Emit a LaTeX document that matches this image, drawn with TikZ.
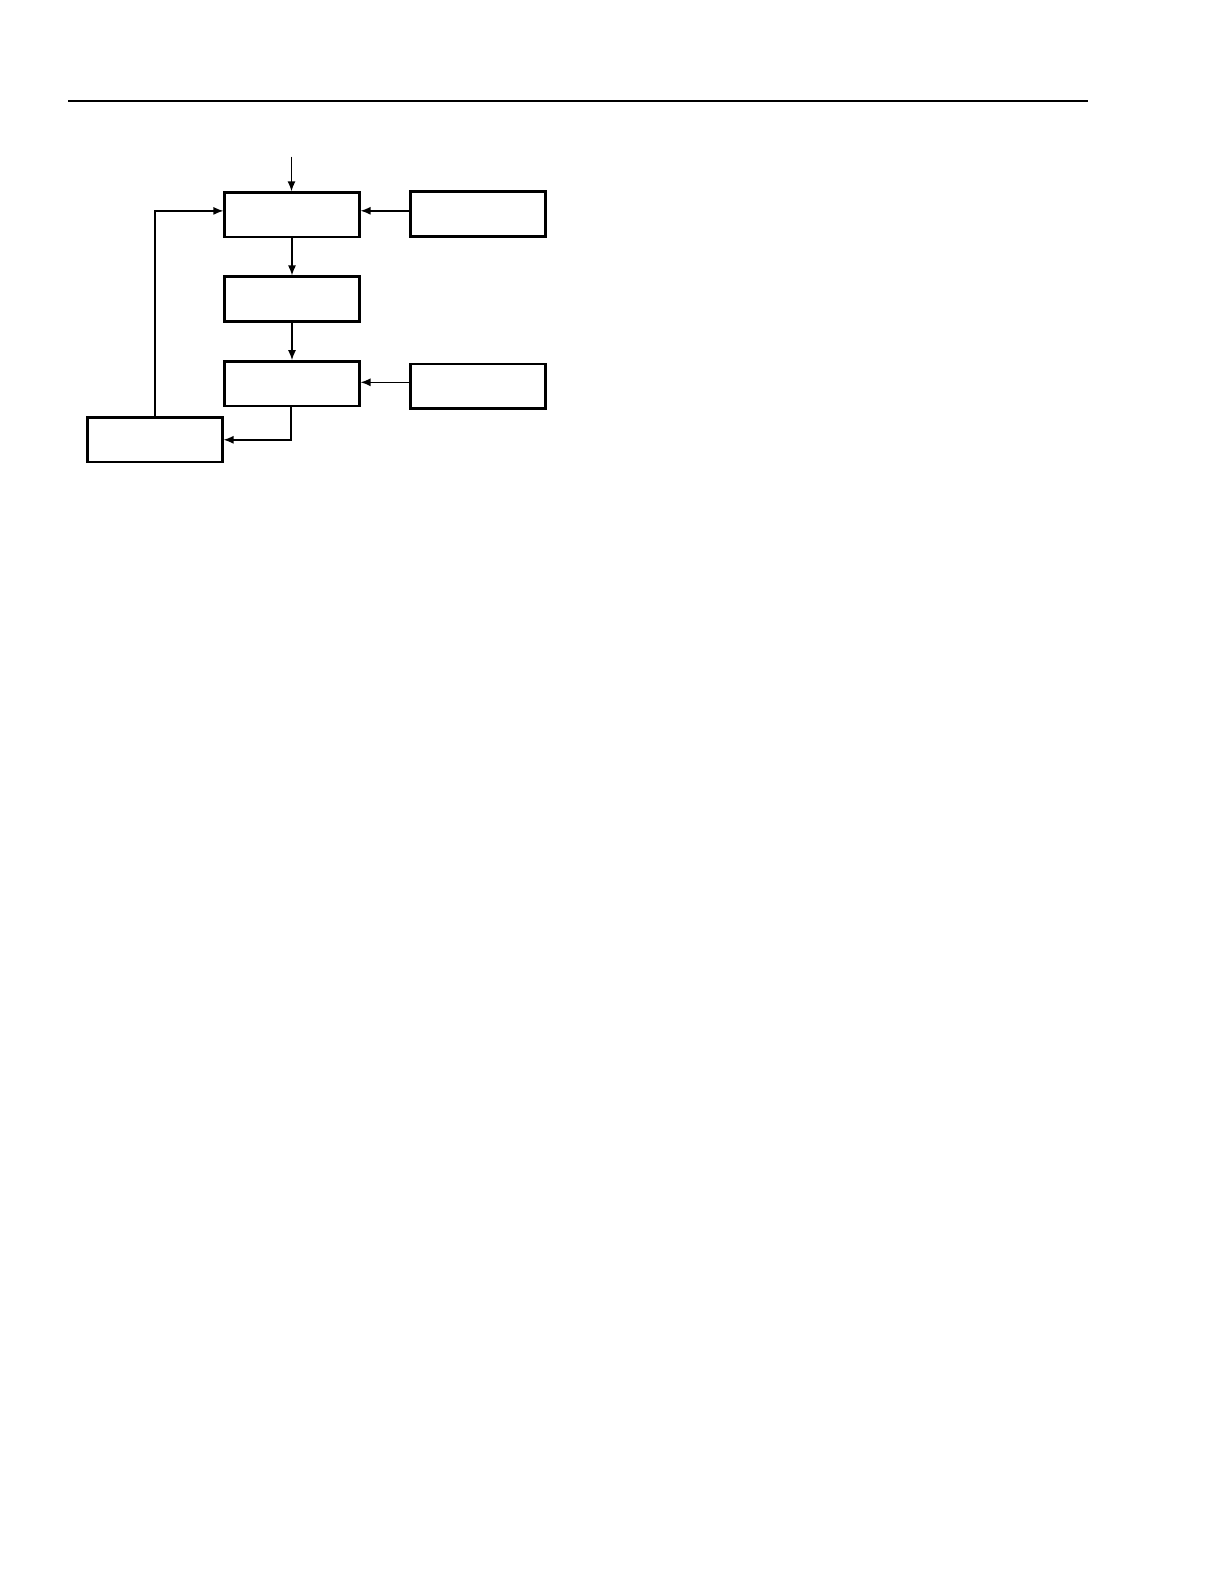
\documentclass[tikz,border=0pt]{standalone}
\usetikzlibrary{arrows.meta}
\begin{document}
\begin{tikzpicture}[x=0.5pt,y=-0.5pt,
  blk/.style={draw=black,line width=1.35pt,rectangle,minimum width=67.2pt,minimum height=22.2pt,inner sep=0pt},
  arr/.style={draw=black,line width=0.7pt,-{Latex[length=5pt,width=4pt]}}]
\useasboundingbox (0,0) rectangle (1224,1584);
\draw[line width=1pt] (68,100.8) -- (1088,100.8);
\node[blk] (A) at (292,214.9) {};
\node[blk] (B) at (292,299) {};
\node[blk] (C) at (292,383.7) {};
\node[blk] (D) at (478,214) {};
\node[blk] (E) at (478,386.3) {};
\node[blk] (F) at (155,439.8) {};
\coordinate (in) at (291.5,156.7);
\draw[arr] (in) -- (in |- A.north);
\draw[arr] (A.south) -- (B.north);
\draw[arr] (B.south) -- (C.north);
\draw[arr] ([yshift=1.6pt]D.west) -- ([yshift=1.6pt]D.west -| A.east);
\draw[arr] ([yshift=2pt]E.west) -- ([yshift=2pt]E.west -| C.east);
\draw[arr] (F.north) |- ([yshift=2pt]A.west);
\draw[arr] ([xshift=-0.6pt]C.south) |- (F.east);
\end{tikzpicture}
\end{document}
